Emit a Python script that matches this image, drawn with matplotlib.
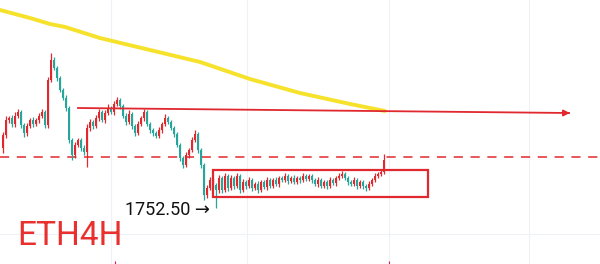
import matplotlib
matplotlib.use("Agg")
import matplotlib.pyplot as plt
import numpy as np

# ---- data (price units) ----
first_open = 1812
closes = [1825,1840,1842,1836,1844,1848,1835,1827,1834,1840,
          1836,1840,1844,1848,1835,1880,1900,1892,1882,1870,
          1862,1852,1820,1805,1815,1820,1812,1808,1832,1838,
          1834,1842,1848,1840,1847,1852,1848,1856,1860,1854,
          1844,1838,1846,1834,1827,1836,1842,1848,1836,1830,
          1827,1824,1830,1836,1842,1838,1832,1826,1815,1802,
          1795,1805,1810,1820,1826,1810,1795,1765,1772,1780,
          1775,1770,
          1782,1770,1784,1772,1782,1774,1784,1770,1778,1774,
          1780,1772,1776,1770,1778,1773,1780,1774,1780,1776,
          1782,1780,1784,1779,1782,1778,1782,1780,1784,1781,
          1784,1780,1776,1780,1774,1778,1774,1780,1777,1782,
          1784,1786,1782,1778,1776,1780,1774,1778,1774,1772,
          1776,1780,1784,1786,1788,1800]
up_wick = [3,4,2,3,4,3,2,2,3,2,
           3,2,3,3,2,3,7,3,2,2,
           2,3,2,2,3,2,2,3,4,3,
           2,3,3,2,3,4,2,3,3,2,
           2,3,4,2,2,3,2,3,2,2,
           2,2,3,2,4,2,2,2,2,2,
           2,3,2,3,4,2,2,2,3,3,
           2,2,3,2,3,2,3,2,3,2,
           3,2,3,2,2,3,2,2,3,2,
           2,3,2,2,3,2,2,3,2,2,
           3,2,2,2,2,3,2,2,2,3,
           2,2,3,3,2,2,2,3,2,2,
           2,2,3,2,3,2,3,6]
dn_wick = [5,3,3,3,3,2,3,4,3,2,
           3,2,3,2,3,3,2,2,3,2,
           2,3,3,5,3,2,3,3,15,3,
           3,2,3,2,3,2,2,3,2,3,
           2,3,2,3,3,2,2,3,2,3,
           3,2,2,3,2,2,2,3,2,3,
           3,2,3,2,2,3,3,5,3,2,
           3,17.5,3,3,2,3,2,3,2,3,
           2,3,2,3,2,3,2,2,3,2,
           2,2,3,2,2,3,2,2,2,3,
           2,2,2,3,2,3,2,2,3,2,
           2,3,2,2,2,3,2,2,3,2,
           3,3,2,2,2,2,2,2]
ma_x = [-1, 9, 15.7, 20.7, 32.3, 49, 65.7, 82.3, 99, 115.7, 127.3]
ma_y = [1950, 1942, 1936, 1933, 1922, 1910, 1898, 1881, 1867, 1856, 1849]
resist_x = [25, 188.7]
resist_y = [1852, 1847]
dash_level = 1803.5
box_x = [70, 141.7]
box_y = [1763, 1790]
low_label = "1752.50"
low_price = 1752.5
title = "ETH4H"

RED = "#e0282e"
GREEN = "#26a69a"

fig = plt.figure(figsize=(6, 2.64), dpi=100)
ax = fig.add_axes([0, 0, 1, 1])
ax.set_xlim(-1, 199)
ax.set_ylim(1696, 1960)
ax.axis("off")

# gridlines
for gx in [36, 81.3, 128.7, 175.3]:
    ax.axvline(gx, color="#eef1f6", lw=0.8, zorder=0)
ax.axhline(1726, color="#eef1f6", lw=0.8, zorder=0)

closes = np.array(closes, dtype=float)
opens = np.concatenate([[first_open], closes[:-1]])
x = np.arange(len(closes))
top = np.maximum(opens, closes)
bot = np.minimum(opens, closes)
highs = top + np.array(up_wick)
lows = bot - np.array(dn_wick)
cols = [RED if c >= o else GREEN for o, c in zip(opens, closes)]

ax.vlines(x, lows, highs, colors=cols, lw=0.9, zorder=3)
ax.bar(x, np.maximum(top - bot, 0.6), bottom=bot, width=0.7, color=cols, zorder=3, linewidth=0)

# moving average
ax.plot(ma_x, ma_y, color="#f6e12b", lw=2.8, solid_capstyle="round", zorder=2)

# resistance arrow
ax.plot(resist_x, resist_y, color=RED, lw=1.3, zorder=4)
ax.annotate("", xy=(resist_x[1] + 1.2, resist_y[1]), xytext=(resist_x[1] - 3, resist_y[1]),
            arrowprops=dict(arrowstyle="-|>", color=RED, lw=1.3, mutation_scale=9), zorder=4)

# dashed level
ax.axhline(dash_level, color=RED, lw=1.1, ls=(0, (6, 5)), zorder=1)

# consolidation box
ax.add_patch(plt.Rectangle((box_x[0], box_y[0]), box_x[1] - box_x[0], box_y[1] - box_y[0],
                           fill=False, edgecolor=RED, lw=1.6, zorder=5))

# labels
ax.text(69, low_price - 7.5, low_label + " \u2192", ha="right", va="baseline",
        fontsize=13, color="#111111", family=["Roboto", "DejaVu Sans"], zorder=6)
ax.text(4.7, 1715, title, ha="left", va="baseline", fontsize=24, color="#e8312f",
        family=["Roboto", "DejaVu Sans"], zorder=6)

# small bottom marks
for mx in [37.3, 128.7]:
    ax.vlines(mx, 1696, 1699, colors="#d81b60", lw=0.8)

fig.savefig("out.png", dpi=100, facecolor="white")
